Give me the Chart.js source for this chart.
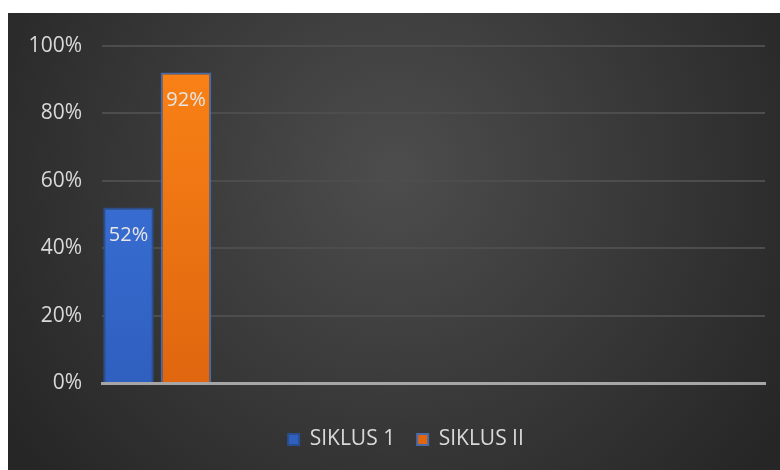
<!DOCTYPE html>
<html>
<head>
<meta charset="utf-8">
<script src="https://cdn.jsdelivr.net/npm/chart.js@4"></script>
<style>
  html, body { margin: 0; padding: 0; background: #fff; }
  #wrap { position: absolute; left: 8px; top: 13px; width: 772px; height: 457px; }
</style>
</head>
<body>
<div id="wrap"><canvas id="chart"></canvas></div>
<script>
// chart data
const categories = ['', '', '', '', '', ''];
const siklus1 = [52, null, null, null, null, null];
const siklus2 = [92, null, null, null, null, null];
const yTicks = [0, 20, 40, 60, 80, 100];

const ctx = document.getElementById('chart').getContext('2d');

// radial dark background
const bgPlugin = {
    id: 'bg',
    beforeDraw(chart) {
        const c = chart.ctx;
        const w = chart.width, h = chart.height;
        const g = c.createRadialGradient(w * 0.5, h * 0.35, 10, w * 0.5, h * 0.35, w * 0.6);
        g.addColorStop(0, '#4c4c4c');
        g.addColorStop(1, '#262626');
        c.save();
        c.fillStyle = g;
        c.fillRect(0, 0, w, h);
        c.restore();
    },
    // legend sits a bit right of centre in the original
    afterLayout(chart) {
        if (chart.legend) chart.legend.left += 29;
    }
};

// value labels inside bar tops
const labelPlugin = {
    id: 'valueLabels',
    afterDatasetsDraw(chart) {
        const c = chart.ctx;
        c.save();
        c.font = '20px "Open Sans", sans-serif';
        c.fillStyle = '#e6e6e6';
        c.textAlign = 'center';
        c.textBaseline = 'middle';
        chart.data.datasets.forEach((ds, i) => {
            chart.getDatasetMeta(i).data.forEach((bar, j) => {
                if (ds.data[j] == null) return;
                c.fillText(ds.data[j] + '%', bar.x, bar.y + 28);
            });
        });
        c.restore();
    }
};

function barFill(top, bottom) {
    return function(context) {
        const area = context.chart.chartArea;
        if (!area) return top;
        const g = context.chart.ctx.createLinearGradient(0, area.top, 0, area.bottom);
        g.addColorStop(0, top);
        g.addColorStop(1, bottom);
        return g;
    };
}

new Chart(ctx, {
    type: 'bar',
    data: {
        labels: categories,
        datasets: [{
            label: 'SIKLUS 1',
            data: siklus1,
            backgroundColor: barFill('#3f78e0', '#2f5fbf'),
            borderColor: '#2a4f8f',
            borderWidth: 2,
            categoryPercentage: 1.04,
            barPercentage: 0.88
        }, {
            label: 'SIKLUS II',
            data: siklus2,
            backgroundColor: barFill('#fb8316', '#e0660f'),
            borderColor: '#4a6aa8',
            borderWidth: 2,
            categoryPercentage: 1.04,
            barPercentage: 0.88
        }]
    },
    options: {
        responsive: true,
        maintainAspectRatio: false,
        animation: false,
        layout: { padding: { top: 11, right: 15, bottom: 10, left: 10 } },
        scales: {
            x: {
                ticks: { display: false },
                grid: { display: false },
                border: { display: true, color: '#a6a6a6', width: 3 },
                afterFit(scale) { scale.height = 24; }
            },
            y: {
                min: 0,
                max: 100,
                afterBuildTicks(scale) {
                    scale.ticks = yTicks.map(v => ({ value: v }));
                },
                afterFit(scale) { scale.width = 84; },
                ticks: {
                    padding: 20,
                    color: '#d9d9d9',
                    font: { family: '"Open Sans", sans-serif', size: 21 },
                    callback: v => v + '%'
                },
                grid: { color: '#4d4d4d', lineWidth: 2, drawTicks: false },
                border: { display: false }
            }
        },
        plugins: {
            legend: {
                position: 'bottom',
                labels: {
                    color: '#d9d9d9',
                    font: { family: '"Open Sans", sans-serif', size: 21 },
                    boxWidth: 11,
                    boxHeight: 11,
                    padding: 22
                }
            },
            tooltip: { enabled: false }
        }
    },
    plugins: [bgPlugin, labelPlugin]
});
</script>
</body>
</html>
